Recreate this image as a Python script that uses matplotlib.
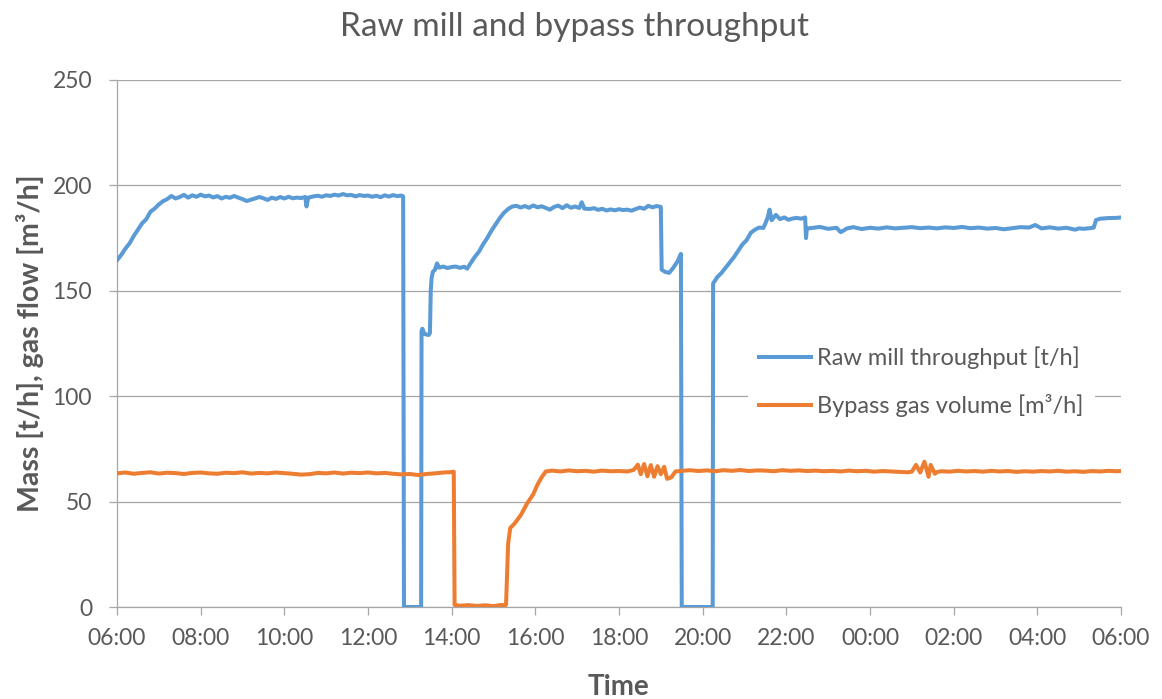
import matplotlib
matplotlib.use("Agg")
import matplotlib.pyplot as plt

# ---------------- data ----------------
tick_hours = [0, 2, 4, 6, 8, 10, 12, 14, 16, 18, 20, 22, 24]
tick_labels = ["06:00", "08:00", "10:00", "12:00", "14:00", "16:00", "18:00",
               "20:00", "22:00", "00:00", "02:00", "04:00", "06:00"]
y_ticks = [0, 50, 100, 150, 200, 250]

# (hours since 06:00, raw mill throughput t/h)
mill_points = [
    (0.0, 164.5), (0.1, 167.0), (0.2, 170.0), (0.3, 172.5), (0.4, 176.0),
    (0.5, 179.0), (0.6, 182.0), (0.7, 184.0), (0.8, 187.5), (0.9, 189.0),
    (1.0, 191.0), (1.1, 192.5), (1.2, 193.5), (1.3, 195.0), (1.4, 193.8),
    (1.5, 194.5), (1.6, 195.5), (1.7, 194.2), (1.8, 195.3), (1.9, 194.6),
    (2.0, 195.6), (2.1, 194.8), (2.2, 195.2), (2.3, 194.3), (2.4, 194.9),
    (2.5, 193.8), (2.6, 194.6), (2.7, 194.1), (2.8, 195.0), (2.9, 194.2),
    (3.0, 193.5), (3.1, 192.6), (3.2, 193.2), (3.3, 193.8), (3.4, 194.5),
    (3.5, 193.9), (3.6, 193.1), (3.7, 194.2), (3.8, 193.6), (3.9, 194.5),
    (4.0, 193.8), (4.1, 194.6), (4.2, 193.9), (4.3, 194.2), (4.4, 194.0),
    (4.5, 194.5), (4.53, 190.0), (4.57, 194.2), (4.7, 194.8), (4.8, 195.1),
    (4.9, 194.6), (5.0, 195.3), (5.1, 195.0), (5.2, 195.6), (5.3, 195.2),
    (5.4, 195.9), (5.5, 195.3), (5.6, 195.5), (5.7, 194.8), (5.8, 195.4),
    (5.9, 195.0), (6.0, 195.2), (6.1, 194.6), (6.2, 195.1), (6.3, 194.4),
    (6.4, 195.3), (6.5, 194.7), (6.6, 195.4), (6.7, 194.9), (6.8, 195.2),
    (6.84, 194.8), (6.86, 0.0), (7.27, 0.0), (7.28, 131.0), (7.30, 132.0),
    (7.35, 129.5), (7.45, 129.0), (7.48, 130.0), (7.50, 150.0), (7.52, 156.0),
    (7.55, 159.0), (7.60, 160.0), (7.65, 163.0), (7.70, 161.0), (7.8, 161.5),
    (7.9, 160.8), (8.0, 161.3), (8.1, 161.5), (8.2, 160.9), (8.3, 161.4),
    (8.37, 160.5), (8.45, 163.0), (8.55, 166.0), (8.65, 168.5), (8.75, 172.0),
    (8.85, 175.0), (8.95, 178.5), (9.05, 181.5), (9.15, 184.5), (9.25, 187.0),
    (9.35, 188.8), (9.45, 190.0), (9.55, 190.3), (9.65, 189.5), (9.75, 190.2),
    (9.85, 189.4), (9.95, 190.5), (10.05, 189.6), (10.15, 190.1), (10.25, 189.3),
    (10.35, 188.5), (10.45, 189.8), (10.55, 190.4), (10.65, 189.2), (10.75, 190.6),
    (10.85, 189.4), (10.95, 190.0), (11.05, 189.3), (11.11, 192.0), (11.17, 189.0),
    (11.3, 188.8), (11.4, 189.2), (11.5, 188.4), (11.6, 188.9), (11.7, 188.1),
    (11.8, 188.6), (11.9, 188.2), (12.0, 188.7), (12.1, 188.3), (12.2, 188.5),
    (12.3, 188.0), (12.4, 188.8), (12.5, 189.5), (12.6, 188.9), (12.7, 190.3),
    (12.8, 189.6), (12.9, 190.2), (13.0, 189.8), (13.02, 160.0), (13.1, 159.0),
    (13.2, 158.5), (13.3, 161.0), (13.4, 164.0), (13.48, 167.5), (13.50, 0.0),
    (14.24, 0.0), (14.25, 153.5), (14.35, 156.5), (14.45, 158.5), (14.55, 161.0),
    (14.65, 163.5), (14.75, 166.0), (14.85, 169.0), (14.95, 172.0), (15.05, 174.0),
    (15.15, 177.5), (15.25, 179.0), (15.35, 180.0), (15.45, 179.8), (15.5, 182.0),
    (15.55, 184.5), (15.6, 188.5), (15.65, 183.5), (15.75, 186.0), (15.85, 184.0),
    (15.95, 184.8), (16.05, 183.7), (16.15, 184.3), (16.25, 184.6), (16.35, 184.2),
    (16.45, 184.8), (16.47, 175.0), (16.49, 179.5), (16.6, 179.8), (16.8, 180.3),
    (17.0, 179.4), (17.2, 179.9), (17.3, 177.8), (17.45, 179.6), (17.6, 180.2),
    (17.8, 179.3), (18.0, 179.9), (18.2, 179.5), (18.4, 180.1), (18.6, 179.6),
    (18.8, 179.9), (19.0, 180.2), (19.2, 179.7), (19.4, 180.0), (19.6, 179.6),
    (19.8, 180.1), (20.0, 179.8), (20.2, 180.3), (20.4, 179.7), (20.6, 180.0),
    (20.8, 179.5), (21.0, 179.8), (21.2, 179.2), (21.4, 179.7), (21.6, 180.2),
    (21.8, 180.0), (21.95, 181.2), (22.1, 179.6), (22.3, 180.1), (22.5, 179.5),
    (22.7, 179.9), (22.9, 179.0), (23.0, 179.6), (23.1, 179.4), (23.3, 179.8),
    (23.35, 180.0), (23.4, 183.5), (23.5, 184.2), (23.7, 184.5), (23.9, 184.6),
    (24.0, 184.8),
]

# (hours since 06:00, bypass gas volume m3/h)
gas_points = [
    (0.0, 63.4), (0.2, 63.8), (0.4, 63.2), (0.6, 63.6), (0.8, 63.9),
    (1.0, 63.3), (1.2, 63.7), (1.4, 63.5), (1.6, 63.1), (1.8, 63.6),
    (2.0, 63.8), (2.2, 63.4), (2.4, 63.2), (2.6, 63.7), (2.8, 63.5),
    (3.0, 63.9), (3.2, 63.3), (3.4, 63.6), (3.6, 63.4), (3.8, 63.8),
    (4.0, 63.5), (4.2, 63.2), (4.4, 62.8), (4.6, 63.0), (4.8, 63.6),
    (5.0, 63.4), (5.2, 63.8), (5.4, 63.3), (5.6, 63.7), (5.8, 63.5),
    (6.0, 63.8), (6.2, 63.4), (6.4, 63.6), (6.6, 63.2), (6.8, 62.9),
    (7.0, 63.1), (7.2, 62.6), (7.4, 63.1), (7.6, 63.4), (7.8, 63.8),
    (8.0, 64.0), (8.05, 64.2), (8.07, 1.0), (8.2, 0.6), (8.4, 0.9),
    (8.6, 0.5), (8.8, 0.8), (9.0, 0.4), (9.2, 1.0), (9.28, 0.7),
    (9.30, 1.2), (9.35, 30.0), (9.40, 37.5), (9.50, 39.5), (9.65, 43.5),
    (9.80, 49.0), (9.95, 53.5), (10.05, 58.0), (10.15, 61.5), (10.25, 64.3),
    (10.4, 64.7), (10.6, 64.3), (10.8, 64.8), (11.0, 64.4), (11.2, 64.6),
    (11.4, 64.2), (11.6, 64.7), (11.8, 64.4), (12.0, 64.5), (12.2, 64.3),
    (12.35, 65.0), (12.45, 67.5), (12.52, 63.0), (12.60, 67.8), (12.68, 62.0),
    (12.76, 67.3), (12.84, 61.8), (12.92, 66.8), (13.00, 63.0), (13.08, 66.5),
    (13.15, 60.8), (13.25, 61.5), (13.35, 64.3), (13.5, 64.6), (13.7, 64.9),
    (13.9, 64.5), (14.1, 64.8), (14.3, 64.4), (14.5, 64.9), (14.7, 64.6),
    (14.9, 65.0), (15.1, 64.5), (15.3, 64.8), (15.5, 64.7), (15.7, 64.4),
    (15.9, 64.9), (16.1, 64.6), (16.3, 64.8), (16.5, 64.5), (16.7, 64.7),
    (16.9, 64.4), (17.1, 64.6), (17.3, 64.3), (17.5, 64.7), (17.7, 64.4),
    (17.9, 64.6), (18.1, 64.2), (18.3, 64.5), (18.5, 64.3), (18.7, 64.1),
    (18.9, 63.9), (19.0, 64.2), (19.1, 67.4), (19.2, 63.8), (19.3, 68.9),
    (19.4, 61.8), (19.45, 67.4), (19.55, 63.2), (19.6, 64.0), (19.7, 64.4),
    (19.9, 64.2), (20.1, 64.6), (20.3, 64.3), (20.5, 64.5), (20.7, 64.2),
    (20.9, 64.6), (21.1, 64.3), (21.3, 64.5), (21.5, 64.1), (21.7, 64.4),
    (21.9, 64.2), (22.1, 64.5), (22.3, 64.3), (22.5, 64.6), (22.7, 64.2),
    (22.9, 64.4), (23.1, 64.1), (23.3, 64.5), (23.5, 64.3), (23.7, 64.6),
    (23.9, 64.4), (24.0, 64.5),
]

series_labels = ["Raw mill throughput [t/h]", "Bypass gas volume [m³/h]"]
title = "Raw mill and bypass throughput"
xlabel = "Time"
ylabel = "Mass [t/h], gas flow [m³/h]"

mill_hours = [p[0] for p in mill_points]
mill_tph = [p[1] for p in mill_points]
gas_hours = [p[0] for p in gas_points]
gas_m3h = [p[1] for p in gas_points]

# ---------------- style ----------------
BLUE = "#5B9BD5"
ORANGE = "#ED7D31"
TXT = "#595959"
GRID = "#A6A6A6"
plt.rcParams["font.family"] = ["Lato", "DejaVu Sans"]

fig = plt.figure(figsize=(11.62, 6.99), dpi=100)
ax = fig.add_axes([117 / 1162, 1 - 607 / 699, 1004 / 1162, 527 / 699])

ax.plot(mill_hours, mill_tph, color=BLUE, lw=2.9, label=series_labels[0],
        solid_joinstyle="round", zorder=3)
ax.plot(gas_hours, gas_m3h, color=ORANGE, lw=2.9, label=series_labels[1],
        solid_joinstyle="round", zorder=3)

ax.set_xlim(0, 24)
ax.set_ylim(0, 250)
ax.set_xticks(tick_hours)
ax.set_xticklabels(tick_labels)
ax.set_yticks(y_ticks)

ax.grid(axis="y", color=GRID, lw=0.9)
ax.set_axisbelow(True)
for s in ["top", "right"]:
    ax.spines[s].set_visible(False)
for s in ["left", "bottom"]:
    ax.spines[s].set_color(GRID)
    ax.spines[s].set_linewidth(0.9)
ax.tick_params(axis="x", colors=TXT, labelsize=16.5, length=6, width=0.9,
               color=GRID, pad=9)
ax.tick_params(axis="y", colors=TXT, labelsize=16.5, length=6, width=0.9,
               color=GRID, pad=12)

# title centred on the figure, as in the reference
fig.text(575 / 1162, 1 - 36.5 / 699, title, color=TXT, fontsize=24,
         ha="center", va="baseline")
ax.set_xlabel(xlabel, color=TXT, fontsize=20, fontweight="bold", labelpad=18)
ax.set_ylabel(ylabel, color=TXT, fontsize=20.5, fontweight="bold", labelpad=6)

leg = ax.legend(loc="upper left", bbox_to_anchor=(0.628, 0.516), frameon=True,
                facecolor="white", edgecolor="none", framealpha=1,
                fontsize=17, handlelength=2.2, handletextpad=0.25,
                labelspacing=1.05, borderpad=0.5, borderaxespad=0,
                fancybox=False)
for t in leg.get_texts():
    t.set_color(TXT)
leg.set_zorder(4)

fig.savefig("out.png", dpi=100)
